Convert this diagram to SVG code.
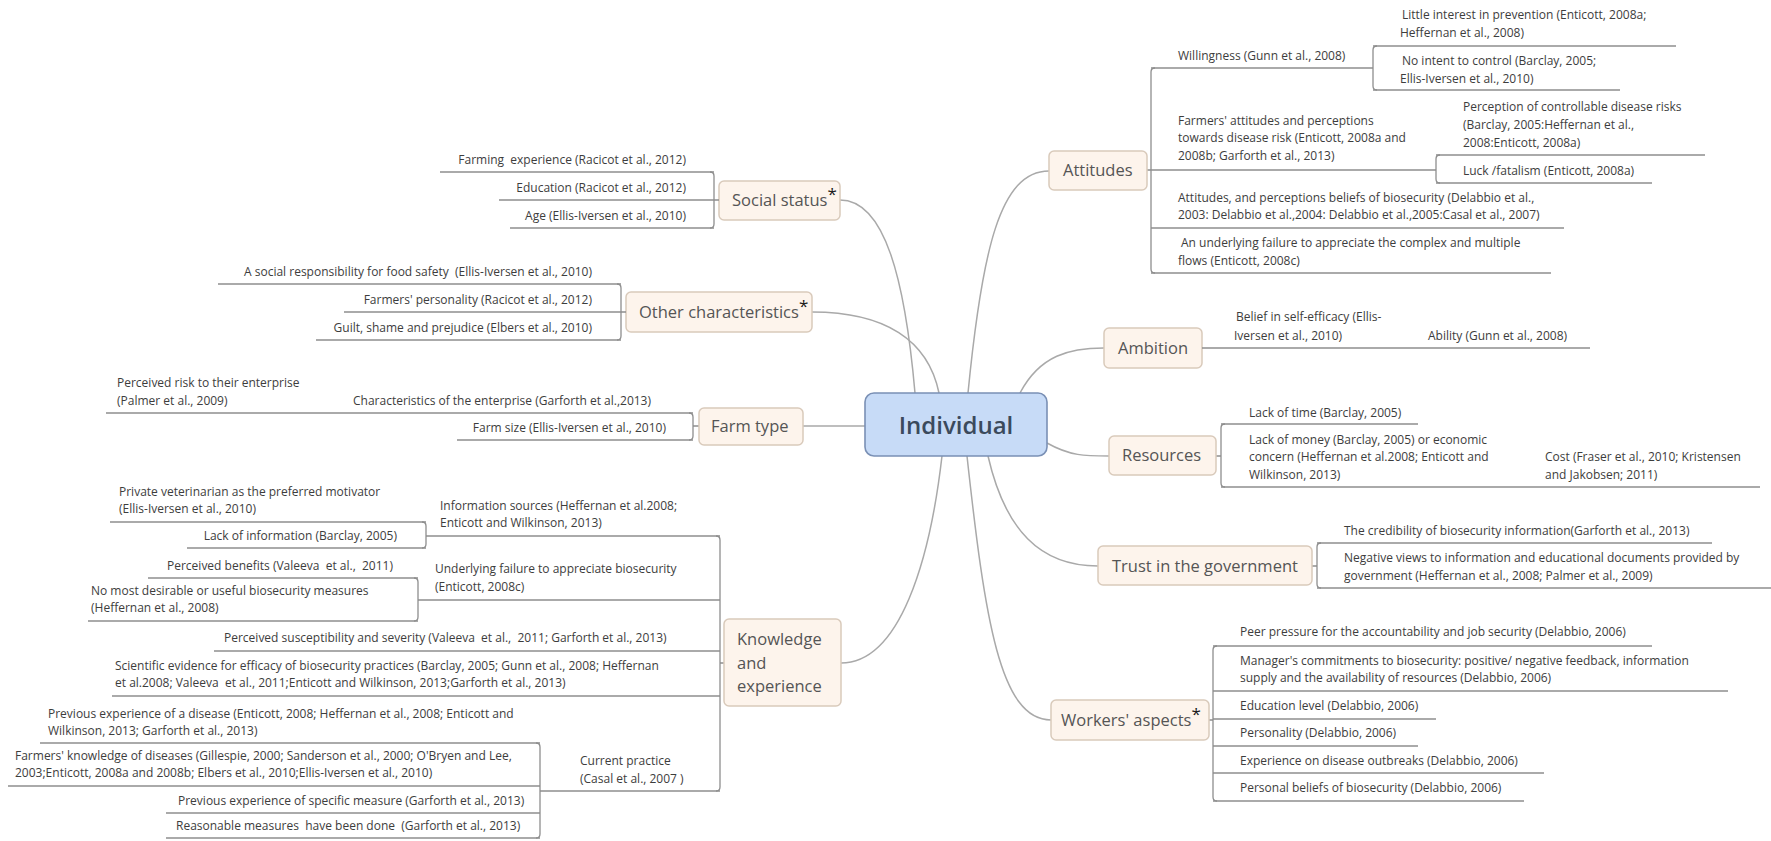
<svg xmlns="http://www.w3.org/2000/svg" width="1771" height="841" viewBox="0 0 1771 841" xml:space="preserve">
<style>
.t{font-family:"Open Sans","Liberation Sans",sans-serif;font-size:12px;fill:#3d3d3d;white-space:pre}
.e{text-anchor:end}
.u{stroke:#8e8e8e;stroke-width:1.3;fill:none}
.br{stroke:#8e8e8e;stroke-width:1.3;fill:none}
.c{stroke:#a9a9a9;stroke-width:1.5;fill:none}
.box{fill:#fdf4ec;stroke:#d9cabb;stroke-width:1.5}
.nl{font-family:"Open Sans","Liberation Sans",sans-serif;font-size:16.5px;fill:#555}
.ast{font-size:17px;fill:#1a1a1a}
.ctr{fill:#c7dbf7;stroke:#7a90b5;stroke-width:1.6}
.ct{font-family:"Open Sans","Liberation Sans",sans-serif;font-size:24px;font-weight:600;fill:#3b4a5c;text-anchor:middle}
</style>
<rect width="1771" height="841" fill="#ffffff"/>
<g id="connectors">
<path class="c" d="M915,393 C905,280 885,200 840,200"/>
<path class="c" d="M939,393 C928,340 885,312 812,312"/>
<path class="c" d="M865,426 L803,426"/>
<path class="c" d="M942,456 C930,560 900,663 841,663"/>
<path class="c" d="M968,393 C982,250 1000,171 1049,171"/>
<path class="c" d="M1020,393 C1040,355 1070,348 1104,348"/>
<path class="c" d="M1047,443 C1070,456 1085,456 1109,456"/>
<path class="c" d="M988,456 C1005,530 1040,566 1098,566"/>
<path class="c" d="M967,456 C985,620 1000,720 1051,720"/>
<path class="br" d="M710,172 Q714,172 714,176 V224 Q714,228 710,228"/>
<path class="br" d="M617,284 Q621,284 621,288 V336 Q621,340 617,340"/>
<path class="br" d="M689,413 Q693,413 693,417 V436 Q693,440 689,440 M693,426 H699"/>
<path class="br" d="M716,536 Q720,536 720,540 V787 Q720,791 716,791 M720,663 H724"/>
<path class="br" d="M422,522 Q426,522 426,526 V544 Q426,548 422,548"/>
<path class="br" d="M414,578 Q418,578 418,582 V617 Q418,621 414,621"/>
<path class="br" d="M536,743 Q540,743 540,747 V834 Q540,838 536,838"/>
<path class="br" d="M1147,170 H1151 M1155,68 Q1151,68 1151,72 V269 Q1151,273 1155,273"/>
<path class="br" d="M1377,46 Q1373,46 1373,50 V86 Q1373,90 1377,90"/>
<path class="br" d="M1440,155 Q1436,155 1436,159 V179 Q1436,183 1440,183"/>
<path class="br" d="M1216,456 H1221 M1225,424 Q1221,424 1221,428 V483 Q1221,487 1225,487"/>
<path class="br" d="M1312,566 H1317 M1321,543 Q1317,543 1317,547 V584 Q1317,588 1321,588"/>
<path class="br" d="M1209,720 H1213 M1217,646 Q1213,646 1213,650 V797 Q1213,801 1217,801"/>
</g>
<g id="individual">
<rect class="ctr" x="865" y="393" width="182" height="63" rx="9"/>
<text class="ct" x="956" y="434">Individual</text>
</g>
<g id="social-status">
<rect class="box" x="719" y="181" width="121" height="39" rx="5"/>
<text class="nl" x="732" y="206">Social status<tspan class="ast" dy="-6">*</tspan></text>
</g>
<g id="farming-experience"><text class="t e" x="686" y="164">Farming  experience (Racicot et al., 2012)</text><path class="u" d="M440,172 H714"/></g>
<g id="education"><text class="t e" x="686" y="192">Education (Racicot et al., 2012)</text><path class="u" d="M499,200 H719"/></g>
<g id="age"><text class="t e" x="686" y="220">Age (Ellis-Iversen et al., 2010)</text><path class="u" d="M510,228 H714"/></g>
<g id="other-characteristics">
<rect class="box" x="626" y="292" width="186" height="40" rx="5"/>
<text class="nl" x="639" y="318">Other characteristics<tspan class="ast" dy="-6">*</tspan></text>
</g>
<g id="social-responsibility"><text class="t e" x="592" y="276">A social responsibility for food safety  (Ellis-Iversen et al., 2010)</text><path class="u" d="M218,284 H621"/></g>
<g id="farmers-personality"><text class="t e" x="592" y="304">Farmers' personality (Racicot et al., 2012)</text><path class="u" d="M344,312 H626"/></g>
<g id="guilt"><text class="t e" x="592" y="332">Guilt, shame and prejudice (Elbers et al., 2010)</text><path class="u" d="M316,340 H621"/></g>
<g id="farm-type">
<rect class="box" x="699" y="408" width="104" height="37" rx="5"/>
<text class="nl" x="711" y="432">Farm type</text>
</g>
<g id="characteristics"><text class="t" x="353" y="405">Characteristics of the enterprise (Garforth et al.,2013)</text><path class="u" d="M330,413 H693"/></g>
<g id="perceived-risk"><text class="t" x="117" y="387">Perceived risk to their enterprise</text><text class="t" x="117" y="405">(Palmer et al., 2009)</text><path class="u" d="M106,413 H330"/></g>
<g id="farm-size"><text class="t e" x="666" y="432">Farm size (Ellis-Iversen et al., 2010)</text><path class="u" d="M457,440 H693"/></g>
<g id="knowledge">
<rect class="box" x="724" y="619" width="117" height="87" rx="5"/>
<text class="nl" x="737" y="645">Knowledge</text>
<text class="nl" x="737" y="669">and</text>
<text class="nl" x="737" y="692">experience</text>
</g>
<g id="information-sources"><text class="t" x="440" y="510">Information sources (Heffernan et al.2008;</text><text class="t" x="440" y="527">Enticott and Wilkinson, 2013)</text><path class="u" d="M426,536 H720"/></g>
<g id="private-vet"><text class="t" x="119" y="496">Private veterinarian as the preferred motivator</text><text class="t" x="119" y="513">(Ellis-Iversen et al., 2010)</text><path class="u" d="M110,522 H426"/></g>
<g id="lack-information"><text class="t e" x="397" y="540">Lack of information (Barclay, 2005)</text><path class="u" d="M187,548 H426"/></g>
<g id="underlying-failure"><text class="t" x="435" y="573">Underlying failure to appreciate biosecurity</text><text class="t" x="435" y="591">(Enticott, 2008c)</text><path class="u" d="M418,600 H720"/></g>
<g id="perceived-benefits"><text class="t e" x="393" y="570">Perceived benefits (Valeeva  et al.,  2011)</text><path class="u" d="M148,578 H418"/></g>
<g id="no-most-desirable"><text class="t" x="91" y="595">No most desirable or useful biosecurity measures</text><text class="t" x="91" y="612">(Heffernan et al., 2008)</text><path class="u" d="M88,621 H418"/></g>
<g id="perceived-susceptibility"><text class="t" x="224" y="642">Perceived susceptibility and severity (Valeeva  et al.,  2011; Garforth et al., 2013)</text><path class="u" d="M214,651 H720"/></g>
<g id="scientific-evidence"><text class="t" x="115" y="670">Scientific evidence for efficacy of biosecurity practices (Barclay, 2005; Gunn et al., 2008; Heffernan</text><text class="t" x="115" y="687">et al.2008; Valeeva  et al., 2011;Enticott and Wilkinson, 2013;Garforth et al., 2013)</text><path class="u" d="M112,696 H720"/></g>
<g id="current-practice"><text class="t" x="580" y="765">Current practice</text><text class="t" x="580" y="783">(Casal et al., 2007 )</text><path class="u" d="M540,791 H720"/></g>
<g id="previous-disease"><text class="t" x="48" y="718">Previous experience of a disease (Enticott, 2008; Heffernan et al., 2008; Enticott and</text><text class="t" x="48" y="735">Wilkinson, 2013; Garforth et al., 2013)</text><path class="u" d="M40,743 H540"/></g>
<g id="farmers-knowledge"><text class="t" x="15" y="760">Farmers' knowledge of diseases (Gillespie, 2000; Sanderson et al., 2000; O'Bryen and Lee,</text><text class="t" x="15" y="777">2003;Enticott, 2008a and 2008b; Elbers et al., 2010;Ellis-Iversen et al., 2010)</text><path class="u" d="M8,786 H540"/></g>
<g id="previous-specific"><text class="t" x="178" y="805">Previous experience of specific measure (Garforth et al., 2013)</text><path class="u" d="M166,813 H540"/></g>
<g id="reasonable-measures"><text class="t" x="176" y="830">Reasonable measures  have been done  (Garforth et al., 2013)</text><path class="u" d="M166,838 H540"/></g>
<g id="attitudes">
<rect class="box" x="1049" y="151" width="98" height="39" rx="5"/>
<text class="nl" x="1063" y="176">Attitudes</text>
</g>
<g id="willingness"><text class="t" x="1178" y="60">Willingness (Gunn et al., 2008)</text><path class="u" d="M1151,68 H1373"/></g>
<g id="little-interest"><text class="t" x="1402" y="19">Little interest in prevention (Enticott, 2008a;</text><text class="t" x="1400" y="37">Heffernan et al., 2008)</text><path class="u" d="M1373,46 H1676"/></g>
<g id="no-intent"><text class="t" x="1402" y="65">No intent to control (Barclay, 2005;</text><text class="t" x="1400" y="83">Ellis-Iversen et al., 2010)</text><path class="u" d="M1373,90 H1620"/></g>
<g id="farmers-attitudes"><text class="t" x="1178" y="125">Farmers' attitudes and perceptions</text><text class="t" x="1178" y="142">towards disease risk (Enticott, 2008a and</text><text class="t" x="1178" y="160">2008b; Garforth et al., 2013)</text><path class="u" d="M1151,170 H1436"/></g>
<g id="perception-controllable"><text class="t" x="1463" y="111">Perception of controllable disease risks</text><text class="t" x="1463" y="129">(Barclay, 2005:Heffernan et al.,</text><text class="t" x="1463" y="147">2008:Enticott, 2008a)</text><path class="u" d="M1436,155 H1705"/></g>
<g id="luck"><text class="t" x="1463" y="175">Luck /fatalism (Enticott, 2008a)</text><path class="u" d="M1436,183 H1652"/></g>
<g id="attitudes-beliefs"><text class="t" x="1178" y="202">Attitudes, and perceptions beliefs of biosecurity (Delabbio et al.,</text><text class="t" x="1178" y="219">2003: Delabbio et al.,2004: Delabbio et al.,2005:Casal et al., 2007)</text><path class="u" d="M1151,228 H1564"/></g>
<g id="underlying-flows"><text class="t" x="1181" y="247">An underlying failure to appreciate the complex and multiple</text><text class="t" x="1178" y="265">flows (Enticott, 2008c)</text><path class="u" d="M1151,273 H1551"/></g>
<g id="ambition">
<rect class="box" x="1104" y="328" width="98" height="40" rx="5"/>
<text class="nl" x="1118" y="354">Ambition</text>
</g>
<g id="belief-self-efficacy"><text class="t" x="1236" y="321">Belief in self-efficacy (Ellis-</text><text class="t" x="1234" y="340">Iversen et al., 2010)</text><path class="u" d="M1202,348 H1410"/></g>
<g id="ability"><text class="t" x="1428" y="340">Ability (Gunn et al., 2008)</text><path class="u" d="M1410,348 H1590"/></g>
<g id="resources">
<rect class="box" x="1109" y="436" width="107" height="39" rx="5"/>
<text class="nl" x="1122" y="461">Resources</text>
</g>
<g id="lack-time"><text class="t" x="1249" y="417">Lack of time (Barclay, 2005)</text><path class="u" d="M1221,424 H1418"/></g>
<g id="lack-money"><text class="t" x="1249" y="444">Lack of money (Barclay, 2005) or economic</text><text class="t" x="1249" y="461">concern (Heffernan et al.2008; Enticott and</text><text class="t" x="1249" y="479">Wilkinson, 2013)</text><path class="u" d="M1221,487 H1530"/></g>
<g id="cost"><text class="t" x="1545" y="461">Cost (Fraser et al., 2010; Kristensen</text><text class="t" x="1545" y="479">and Jakobsen; 2011)</text><path class="u" d="M1530,487 H1760"/></g>
<g id="trust">
<rect class="box" x="1098" y="546" width="214" height="39" rx="5"/>
<text class="nl" x="1112" y="572">Trust in the government</text>
</g>
<g id="credibility"><text class="t" x="1344" y="535">The credibility of biosecurity information(Garforth et al., 2013)</text><path class="u" d="M1317,543 H1712"/></g>
<g id="negative-views"><text class="t" x="1344" y="562">Negative views to information and educational documents provided by</text><text class="t" x="1344" y="580">government (Heffernan et al., 2008; Palmer et al., 2009)</text><path class="u" d="M1317,588 H1771"/></g>
<g id="workers">
<rect class="box" x="1051" y="700" width="158" height="40" rx="5"/>
<text class="nl" x="1061" y="726">Workers' aspects<tspan class="ast" dy="-6">*</tspan></text>
</g>
<g id="peer-pressure"><text class="t" x="1240" y="636">Peer pressure for the accountability and job security (Delabbio, 2006)</text><path class="u" d="M1213,646 H1652"/></g>
<g id="manager-commitments"><text class="t" x="1240" y="665">Manager's commitments to biosecurity: positive/ negative feedback, information</text><text class="t" x="1240" y="682">supply and the availability of resources (Delabbio, 2006)</text><path class="u" d="M1213,691 H1728"/></g>
<g id="education-level"><text class="t" x="1240" y="710">Education level (Delabbio, 2006)</text><path class="u" d="M1213,719 H1436"/></g>
<g id="personality"><text class="t" x="1240" y="737">Personality (Delabbio, 2006)</text><path class="u" d="M1213,746 H1418"/></g>
<g id="experience-outbreaks"><text class="t" x="1240" y="765">Experience on disease outbreaks (Delabbio, 2006)</text><path class="u" d="M1213,773 H1544"/></g>
<g id="personal-beliefs"><text class="t" x="1240" y="792">Personal beliefs of biosecurity (Delabbio, 2006)</text><path class="u" d="M1213,801 H1524"/></g>
</svg>
